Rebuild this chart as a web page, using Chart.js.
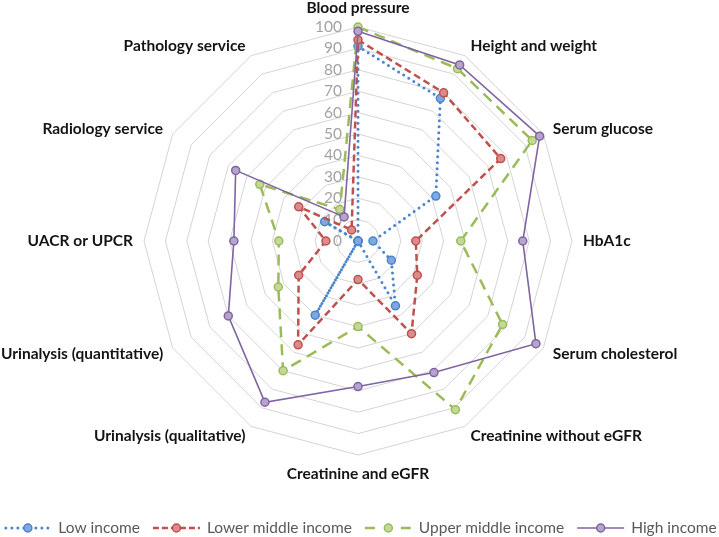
<!DOCTYPE html>
<html>
<head>
<meta charset="utf-8">
<script src="https://cdn.jsdelivr.net/npm/chart.js@4"></script>
<style>
html,body{margin:0;padding:0;background:#ffffff;}
#wrap{width:719px;height:537px;position:relative;}
</style>
</head>
<body>
<div id="wrap"><canvas id="c" width="719" height="537"></canvas></div>
<script>
const categories = [
  'Blood pressure', 'Height and weight', 'Serum glucose', 'HbA1c',
  'Serum cholesterol', 'Creatinine without eGFR', 'Creatinine and eGFR',
  'Urinalysis (qualitative)', 'Urinalysis (quantitative)', 'UACR or UPCR',
  'Radiology service', 'Pathology service'
];
const seriesNames = ['Low income', 'Lower middle income', 'Upper middle income', 'High income'];
const lowIncome         = [91, 77, 42, 7, 18, 35, 0, 40, 0, 0, 18, 0];
const lowerMiddleIncome = [94, 80, 77, 27, 32, 50, 18, 56, 32, 15, 32, 6];
const upperMiddleIncome = [100, 93, 94, 48, 78, 91, 40, 70, 43, 37, 53, 17];
const highIncome        = [98, 95, 98, 77, 96, 71, 68, 87, 70, 58, 66, 13];
const tickValues = [0, 10, 20, 30, 40, 50, 60, 70, 80, 90, 100];

const FONT_FAMILY = 'Lato, "Open Sans", "Liberation Sans", sans-serif';

const styles = [
  {color:'#4a84cc', fill:'#7fa9de', width:3,   dash:[0,6],  cap:'round', legendDash:[0,6]},
  {color:'#c0504d', fill:'#da8c8a', width:2.5, dash:[7,4],  cap:'butt',  legendDash:[6,3]},
  {color:'#9bbb59', fill:'#c4d89c', width:2.5, dash:[11,7], cap:'butt',  legendDash:[10,26]},
  {color:'#8064a2', fill:'#b5a4cb', width:1.6, dash:[],     cap:'butt',  legendDash:[]}
];
const seriesData = [lowIncome, lowerMiddleIncome, upperMiddleIncome, highIncome];

const datasets = seriesNames.map((name, i) => ({
  label: name,
  data: seriesData[i],
  borderColor: styles[i].color,
  backgroundColor: 'rgba(0,0,0,0)',
  borderWidth: styles[i].width,
  borderDash: styles[i].dash,
  borderCapStyle: styles[i].cap,
  fill: false,
  pointRadius: 4,
  pointHoverRadius: 4,
  pointBackgroundColor: styles[i].fill,
  pointBorderColor: styles[i].color,
  pointBorderWidth: 1.5,
  legendDash: styles[i].legendDash,
  order: 4 - i
}));

const tickLabelPlugin = {
  id: 'tickLabels',
  beforeDatasetsDraw(chart) {
    const s = chart.scales.r;
    const ctx = chart.ctx;
    ctx.save();
    ctx.font = '15.5px ' + FONT_FAMILY;
    ctx.fillStyle = '#a3a3a3';
    ctx.textAlign = 'right';
    ctx.textBaseline = 'middle';
    tickValues.forEach(v => {
      const d = s.getDistanceFromCenterForValue(v);
      ctx.fillText(String(v), s.xCenter - 16, s.yCenter - d);
    });
    ctx.restore();
  }
};

const pointLabelPlugin = {
  id: 'pointLabelsCustom',
  afterDatasetsDraw(chart) {
    const s = chart.scales.r;
    const ctx = chart.ctx;
    ctx.save();
    ctx.font = 'bold 15.5px ' + FONT_FAMILY;
    ctx.fillStyle = '#141414';
    ctx.textBaseline = 'middle';
    chart.data.labels.forEach((lab, i) => {
      const probe = s.getPointPosition(i, 100);
      const c = Math.cos(probe.angle);
      let dist = s.drawingArea + 11;
      let align;
      if (Math.abs(c) < 0.01) { align = 'center'; dist = s.drawingArea + 19; }
      else if (c > 0) align = 'left';
      else align = 'right';
      const p = s.getPointPosition(i, dist);
      ctx.textAlign = align;
      ctx.fillText(lab, p.x, p.y);
    });
    ctx.restore();
  }
};

const legendPlugin = {
  id: 'lineLegend',
  afterDraw(chart) {
    const ctx = chart.ctx;
    const ds = chart.data.datasets;
    ctx.save();
    ctx.font = '15.5px ' + FONT_FAMILY;
    const sampleW = 47, gapText = 7, gapItem = 13;
    const widths = ds.map(d => sampleW + gapText + ctx.measureText(d.label).width);
    const total = widths.reduce((a, b) => a + b, 0) + gapItem * (ds.length - 1);
    let x = (chart.width - total) / 2 + 1;
    const y = 528;
    ds.forEach((d, i) => {
      ctx.save();
      ctx.strokeStyle = d.borderColor;
      ctx.lineWidth = d.borderWidth;
      ctx.lineCap = d.borderCapStyle;
      ctx.setLineDash(d.legendDash);
      ctx.beginPath();
      ctx.moveTo(x + (d.borderCapStyle === 'round' ? 1.5 : 0), y);
      ctx.lineTo(x + sampleW, y);
      ctx.stroke();
      ctx.setLineDash([]);
      ctx.beginPath();
      ctx.arc(x + sampleW / 2, y, 4, 0, Math.PI * 2);
      ctx.fillStyle = d.pointBackgroundColor;
      ctx.fill();
      ctx.lineWidth = 1.5;
      ctx.strokeStyle = d.pointBorderColor;
      ctx.stroke();
      ctx.restore();
      ctx.fillStyle = '#595959';
      ctx.textAlign = 'left';
      ctx.textBaseline = 'middle';
      ctx.fillText(d.label, x + sampleW + gapText, y);
      x += widths[i] + gapItem;
    });
    ctx.restore();
  }
};

new Chart(document.getElementById('c'), {
  type: 'radar',
  data: { labels: categories, datasets: datasets },
  options: {
    responsive: false,
    animation: false,
    devicePixelRatio: 1,
    layout: { padding: { top: 27, bottom: 82, left: 0, right: 2 } },
    plugins: { legend: { display: false }, tooltip: { enabled: false } },
    elements: { line: { tension: 0 } },
    scales: {
      r: {
        min: 0, max: 100,
        ticks: { display: false, stepSize: 10 },
        grid: { color: '#d4d4d4', lineWidth: 1 },
        angleLines: { display: false },
        pointLabels: { display: false }
      }
    }
  },
  plugins: [tickLabelPlugin, pointLabelPlugin, legendPlugin]
});
</script>
</body>
</html>
